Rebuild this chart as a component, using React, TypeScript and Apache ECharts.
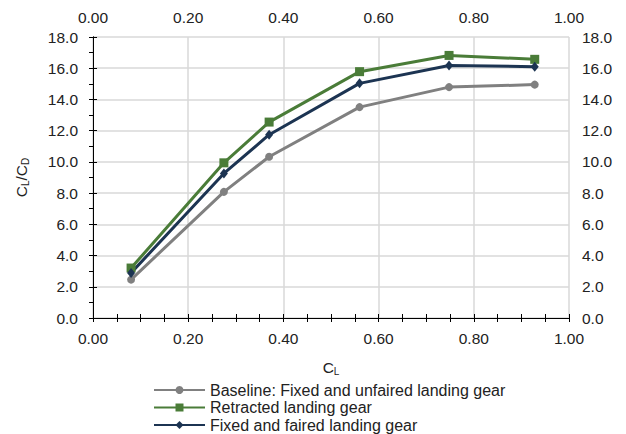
import React, { useEffect, useRef } from "react";
import * as echarts from "echarts";

const cl = [0.08, 0.275, 0.37, 0.56, 0.748, 0.928];
const baseline = [2.46, 8.08, 10.33, 13.51, 14.79, 14.95];
const retracted = [3.2, 9.94, 12.55, 15.78, 16.82, 16.57];
const faired = [2.89, 9.26, 11.74, 15.03, 16.18, 16.1];
const seriesNames = [
  "Baseline: Fixed and unfaired landing gear",
  "Retracted landing gear",
  "Fixed and faired landing gear",
];

const FONT = "Liberation Sans, Arial, sans-serif";

export default function App() {
  const ref = useRef<HTMLDivElement>(null);
  useEffect(() => {
    if (!ref.current) return;
    const chart = echarts.init(ref.current, null, { renderer: "svg" });
    const pair = (ys: number[]) => cl.map((x, i) => [x, ys[i]]);
    const axisLine = { show: true, lineStyle: { color: "#000", width: 1 } };
    const label = { color: "#222", fontSize: 15.5, fontFamily: FONT };
    const nameStyle = {
      color: "#222",
      fontSize: 15.5,
      fontFamily: FONT,
      rich: { s: { fontSize: 10, fontFamily: FONT, color: "#222", verticalAlign: "bottom", padding: [8, 0, 0, 0] } },
    };
    const xBase = {
      type: "value" as const,
      min: 0,
      max: 1,
      interval: 0.2,
      axisLine,
      axisTick: { show: true, inside: true, length: 4, lineStyle: { color: "#000" } },
      minorTick: { show: true, splitNumber: 4, length: 4, lineStyle: { color: "#000" } },
      axisLabel: { ...label, margin: 12, formatter: (v: number) => v.toFixed(2) },
    };
    const yBase = {
      type: "value" as const,
      min: 0,
      max: 18,
      interval: 2,
      axisLine,
      axisTick: { show: true, inside: true, length: 4, lineStyle: { color: "#000" } },
      axisLabel: { ...label, formatter: (v: number) => v.toFixed(1) },
    };
    chart.setOption({
      animation: false,
      backgroundColor: "#fff",
      grid: { left: 93, right: 57, top: 37, bottom: 116 },
      xAxis: [
        {
          ...xBase,
          position: "bottom",
          splitLine: { show: true, lineStyle: { color: "#d9d9d9", width: 1.5 } },
          name: "C{s|L}",
          nameLocation: "middle",
          nameGap: 40,
          nameTextStyle: nameStyle,
        },
        { ...xBase, position: "top", splitLine: { show: false } },
      ],
      yAxis: [
        {
          ...yBase,
          position: "left",
          axisLabel: { ...yBase.axisLabel, margin: 15 },
          splitLine: { show: true, lineStyle: { color: "#d9d9d9", width: 1.5 } },
          name: "C{s|L}/C{s|D}",
          nameLocation: "middle",
          nameGap: 63,
          nameTextStyle: nameStyle,
        },
        {
          ...yBase,
          position: "right",
          axisLabel: { ...yBase.axisLabel, margin: 13 },
          splitLine: { show: false },
          minorTick: { show: true, splitNumber: 2, length: 4, lineStyle: { color: "#000" } },
        },
      ],
      legend: {
        orient: "vertical",
        left: 153,
        top: 382,
        padding: 0,
        itemWidth: 51,
        itemHeight: 10,
        itemGap: 1.5,
        textStyle: { color: "#222", fontSize: 16, fontFamily: FONT, lineHeight: 16 },
        data: seriesNames,
      },
      series: [
        {
          name: seriesNames[0],
          type: "line",
          data: pair(baseline),
          symbol: "circle",
          symbolSize: 8,
          lineStyle: { color: "#808080", width: 3 },
          itemStyle: { color: "#808080" },
        },
        {
          name: seriesNames[1],
          type: "line",
          data: pair(retracted),
          symbol: "rect",
          symbolSize: 9,
          lineStyle: { color: "#4a7c38", width: 3 },
          itemStyle: { color: "#4a7c38" },
        },
        {
          name: seriesNames[2],
          type: "line",
          data: pair(faired),
          symbol: "diamond",
          symbolSize: [8, 10],
          lineStyle: { color: "#1c3452", width: 3 },
          itemStyle: { color: "#1c3452" },
        },
      ],
    });
    return () => chart.dispose();
  }, []);
  return <div ref={ref} style={{ width: 626, height: 434, position: "absolute", left: 0, top: 0 }} />;
}
